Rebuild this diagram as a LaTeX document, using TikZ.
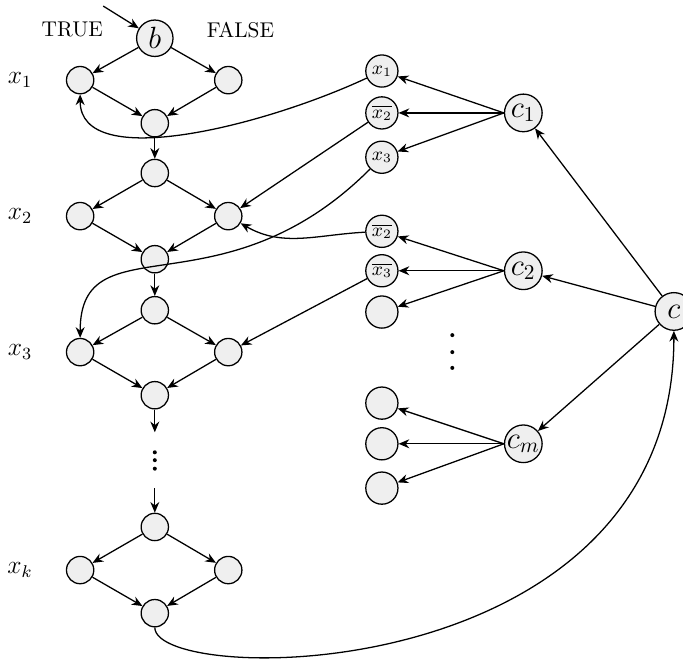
\documentclass[tikz,border=0pt]{standalone}
\usepackage{amsmath}
\usepackage{tikz}
\usetikzlibrary{arrows.meta, positioning}
\definecolor{nodegray}{HTML}{EFEFEF}
\tikzset{
	varnode/.style={circle, draw, semithick, fill=nodegray, minimum size=0.45cm, inner sep=0pt}
}
\tikzset{
	litnode/.style={circle, draw, semithick, fill=nodegray, minimum size=0.53cm, inner sep=0pt, font=\small}
}
\tikzset{
	bignode/.style={circle, draw, semithick, fill=nodegray, minimum size=0.62cm, inner sep=0pt, font=\Large}
}
\tikzset{
	rowtext/.style={font=\large}
}
\tikzset{
	linkarrow/.style={semithick, -{Stealth[length=5pt, width=4.2pt]}}
}

\begin{document}
\begin{tikzpicture}

	\useasboundingbox (0,0) rectangle (11.25,-10.92);

	\begin{scope}
		\node (ttrue) at (1.19,-0.49) {TRUE};
		\node (tfalse) at (3.96,-0.49) {FALSE};
		\node[rowtext] (lab1) at (0.33,-1.32) {$x_1$};
		\node[rowtext] (lab2) at (0.33,-3.56) {$x_2$};
		\node[rowtext] (lab3) at (0.33,-5.80) {$x_3$};
		\node[rowtext] (labk) at (0.33,-9.39) {$x_k$};
	\end{scope}

	\begin{scope}
		\coordinate (start) at (1.70,-0.10);
		\node[bignode, minimum size=0.6cm] (top1) at (2.55,-0.63) {$b$};
		\node[varnode] (true1) at (1.32,-1.32) {};
		\node[varnode] (false1) at (3.76,-1.32) {};
		\node[varnode] (join1) at (2.55,-2.03) {};

		\node[varnode] (top2) at (2.55,-2.85) {};
		\node[varnode] (true2) at (1.32,-3.56) {};
		\node[varnode] (false2) at (3.76,-3.56) {};
		\node[varnode] (join2) at (2.55,-4.27) {};

		\node[varnode] (top3) at (2.55,-5.11) {};
		\node[varnode] (true3) at (1.32,-5.80) {};
		\node[varnode] (false3) at (3.76,-5.80) {};
		\node[varnode] (join3) at (2.55,-6.51) {};

		\coordinate (gapA) at (2.55,-7.12);
		\coordinate (gapB) at (2.55,-8.04);

		\node[varnode] (topk) at (2.55,-8.68) {};
		\node[varnode] (truek) at (1.32,-9.39) {};
		\node[varnode] (falsek) at (3.76,-9.39) {};
		\node[varnode] (joink) at (2.55,-10.10) {};

		\fill (2.55,-7.45) circle (0.033);
		\fill (2.55,-7.58) circle (0.033);
		\fill (2.55,-7.72) circle (0.033);
	\end{scope}

	\begin{scope}
		\draw[linkarrow] (start) -- (top1);
		\draw[linkarrow] (top1) -- (true1);
		\draw[linkarrow] (top1) -- (false1);
		\draw[linkarrow] (true1) -- (join1);
		\draw[linkarrow] (false1) -- (join1);
		\draw[linkarrow] (join1) -- (top2);
		\draw[linkarrow] (top2) -- (true2);
		\draw[linkarrow] (top2) -- (false2);
		\draw[linkarrow] (true2) -- (join2);
		\draw[linkarrow] (false2) -- (join2);
		\draw[linkarrow] (join2) -- (top3);
		\draw[linkarrow] (top3) -- (true3);
		\draw[linkarrow] (top3) -- (false3);
		\draw[linkarrow] (true3) -- (join3);
		\draw[linkarrow] (false3) -- (join3);
		\draw[linkarrow] (join3) -- (gapA);
		\draw[linkarrow] (gapB) -- (topk);
		\draw[linkarrow] (topk) -- (truek);
		\draw[linkarrow] (topk) -- (falsek);
		\draw[linkarrow] (truek) -- (joink);
		\draw[linkarrow] (falsek) -- (joink);
	\end{scope}

	\begin{scope}
		\node[litnode] (lit1) at (6.29,-1.17) {$x_1$};
		\node[litnode] (lit2) at (6.29,-1.86) {$\overline{x_2}$};
		\node[litnode] (lit3) at (6.29,-2.59) {$x_3$};
		\node[bignode] (c1) at (8.62,-1.86) {$c_1$};

		\node[litnode] (lit4) at (6.29,-3.81) {$\overline{x_2}$};
		\node[litnode] (lit5) at (6.29,-4.46) {$\overline{x_3}$};
		\node[litnode] (lit6) at (6.29,-5.14) {};
		\node[bignode] (c2) at (8.62,-4.46) {$c_2$};

		\fill (7.45,-5.52) circle (0.033);
		\fill (7.45,-5.80) circle (0.033);
		\fill (7.45,-6.06) circle (0.033);

		\node[litnode] (lit7) at (6.29,-6.64) {};
		\node[litnode] (lit8) at (6.29,-7.31) {};
		\node[litnode] (lit9) at (6.29,-8.04) {};
		\node[bignode] (cm) at (8.62,-7.31) {$c_m$};

		\node[bignode] (call) at (11.10,-5.13) {$c$};
	\end{scope}

	\begin{scope}
		\draw[linkarrow] (c1.west) -- (lit1);
		\draw[linkarrow] (c1.west) -- (lit2);
		\draw[linkarrow] (c1.west) -- (lit3);
		\draw[linkarrow] (c2.west) -- (lit4);
		\draw[linkarrow] (c2.west) -- (lit5);
		\draw[linkarrow] (c2.west) -- (lit6);
		\draw[linkarrow] (cm.west) -- (lit7);
		\draw[linkarrow] (cm.west) -- (lit8);
		\draw[linkarrow] (cm.west) -- (lit9);
		\draw[linkarrow] (call) -- (c1);
		\draw[linkarrow] (call) -- (c2);
		\draw[linkarrow] (call) -- (cm);

		\draw[linkarrow] (lit1) to[out=205, in=-90, in looseness=0.7] (true1);
		\draw[linkarrow] (lit2) -- (false2);
		\draw[linkarrow] (lit3) to[out=-135, in=90, out looseness=1.6, in looseness=0.9] (true3);
		\draw[linkarrow] (lit4) to[out=183, in=-30] (false2);
		\draw[linkarrow] (lit5) -- (false3);
		\draw[linkarrow] (joink) .. controls +(0,-1.22) and +(0,-6.24) .. (call);
	\end{scope}

\end{tikzpicture}
\end{document}
